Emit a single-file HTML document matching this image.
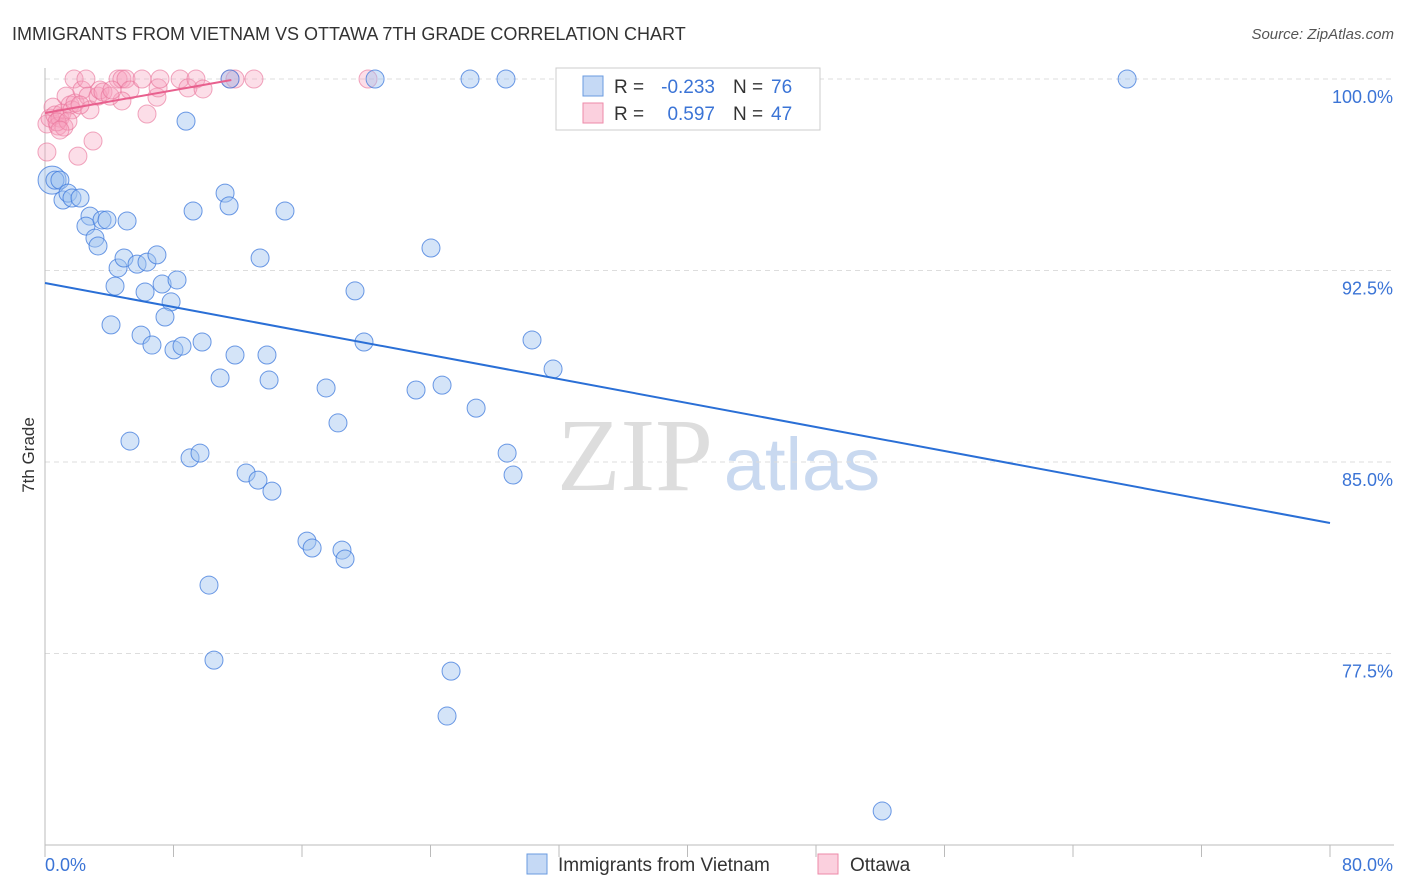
<!DOCTYPE html>
<html><head><meta charset="utf-8"><style>
body{margin:0;background:#fff;font-family:"Liberation Sans",sans-serif;}
svg{display:block}
</style></head><body>
<svg id="chart" width="1406" height="892">
<text x="12" y="40" font-size="18" fill="#333">IMMIGRANTS FROM VIETNAM VS OTTAWA 7TH GRADE CORRELATION CHART</text>
<text x="1394" y="39" font-size="15" fill="#555" text-anchor="end" font-style="italic">Source: ZipAtlas.com</text>
<text x="635" y="490" font-size="104" fill="#ddd" font-family="Liberation Serif,serif" text-anchor="middle">ZIP</text>
<text x="802" y="490" font-size="74" fill="#c9d9f0" text-anchor="middle">atlas</text>
<g id="grid"></g><g id="axes"></g><g id="pts"></g><g id="trends"></g>
<text transform="translate(34,455) rotate(-90)" font-size="17" fill="#333" text-anchor="middle">7th Grade</text>
<g>
<rect x="556" y="68" width="264" height="62" fill="#fff" stroke="#ccc"/>
<rect x="583" y="76" width="20" height="20" fill="#c5d9f5" stroke="#6a9be0"/>
<rect x="583" y="103" width="20" height="20" fill="#fbd0de" stroke="#ee8aa8"/>
<text x="614" y="93" font-size="19" fill="#333">R =</text>
<text x="715" y="93" font-size="19" fill="#3b74d6" text-anchor="end">-0.233</text>
<text x="733" y="93" font-size="19" fill="#333">N =</text>
<text x="771" y="93" font-size="19" fill="#3b74d6">76</text>
<text x="614" y="120" font-size="19" fill="#333">R =</text>
<text x="715" y="120" font-size="19" fill="#3b74d6" text-anchor="end">0.597</text>
<text x="733" y="120" font-size="19" fill="#333">N =</text>
<text x="771" y="120" font-size="19" fill="#3b74d6">47</text>
</g>
<g>
<rect x="527" y="854" width="20" height="20" fill="#c5d9f5" stroke="#6a9be0"/>
<text x="558" y="871" font-size="19" fill="#333">Immigrants from Vietnam</text>
<rect x="818" y="854" width="20" height="20" fill="#fbd0de" stroke="#ee8aa8"/>
<text x="850" y="871" font-size="19" fill="#333">Ottawa</text>
</g>
</svg>
<script>
const blueX=[0.44,0.62,0.93,1.12,1.43,1.68,2.18,2.80,2.55,3.55,3.86,5.11,3.11,3.30,4.55,4.92,5.73,6.35,6.97,4.36,6.23,7.29,8.22,7.85,4.11,7.47,5.98,6.66,8.03,8.53,9.78,11.83,13.82,10.90,13.95,17.50,23.10,24.72,26.84,18.24,19.86,19.30,24.03,30.32,31.63,5.29,9.03,9.65,12.52,13.26,14.13,16.31,16.63,18.49,18.68,10.21,10.52,25.28,25.03,52.12,28.77,29.14,8.78,11.21,11.46,9.22,14.94,13.39,20.55,26.46,28.70,43.28,67.37,11.52];
const blueY=[96.04,96.04,96.04,95.26,95.53,95.34,95.34,94.63,94.24,94.48,94.48,94.44,93.77,93.46,92.60,92.99,92.75,92.83,93.11,91.89,91.66,91.97,92.13,91.27,90.37,90.68,89.97,89.58,89.39,89.54,89.70,89.19,89.19,88.29,88.21,87.90,87.82,88.01,87.11,86.53,89.70,91.70,93.38,89.78,88.64,85.82,85.16,85.35,84.57,84.29,83.86,81.90,81.63,81.55,81.20,80.18,77.24,76.81,75.05,71.33,85.35,84.49,98.35,95.53,95.03,94.83,94.83,92.99,100,100,100,100,100,100];
const pinkX=[0.12,0.12,0.31,0.50,0.62,0.81,0.93,1.06,1.18,1.31,1.56,1.68,1.81,1.87,2.05,2.30,2.55,2.68,2.80,2.99,3.30,3.42,3.61,4.55,4.79,5.04,5.29,4.79,6.04,6.35,6.97,7.04,8.41,8.90,9.40,9.84,11.52,11.83,13.01,20.11,0.75,1.43,0.93,2.18,4.05,4.17,7.16];
const pinkY=[97.14,98.24,98.47,98.90,98.59,98.16,98.47,98.67,98.12,99.33,98.98,98.79,100,99.06,96.98,99.57,100,99.33,98.79,97.57,99.33,99.57,99.49,100,100,100,99.57,99.14,100,98.63,99.29,99.65,100,99.65,100,99.61,100,100,100,100,98.32,98.35,98.00,98.98,99.33,99.57,100];
const blueTrendX=[0,80], blueTrendY=[92.01,82.61];
const pinkTrendX=[0,11.6], pinkTrendY=[98.67,99.96];
const yTicks=[100,92.5,85,77.5];
const yTickLabels=["100.0%","92.5%","85.0%","77.5%"];
const xTickLabels=["0.0%","80.0%"];

const X0=45,X1=1330,Y0=79,YB=845;
const sx=v=>X0+(v-0)*(X1-X0)/80;
const sy=v=>Y0+(100-v)*(YB-Y0)/30;
const NS="http://www.w3.org/2000/svg";
function mk(tag,attrs,parent){const e=document.createElementNS(NS,tag);for(const k in attrs)e.setAttribute(k,attrs[k]);parent.appendChild(e);return e;}
const grid=document.getElementById('grid'),axes=document.getElementById('axes'),pts=document.getElementById('pts'),tr=document.getElementById('trends');
yTicks.forEach((t,i)=>{
  const l=mk('line',{x1:X0,x2:1394,y1:sy(t),y2:sy(t),stroke:'#ddd','stroke-dasharray':'5,4'},grid);
  
  
  const tx=mk('text',{x:1393,y:sy(t)+24,'font-size':18,fill:'#3b74d6','text-anchor':'end'},grid);
  tx.textContent=yTickLabels[i];
  
  
});
const ya=mk('line',{x1:X0,x2:X0,y1:68,y2:YB,stroke:'#bbb'},axes);


const xa=mk('line',{x1:X0,x2:1394,y1:YB,y2:YB,stroke:'#bbb'},axes);


for(let v=0;v<=80;v+=8){
  const t=mk('line',{x1:sx(v),x2:sx(v),y1:YB,y2:YB+12,stroke:'#bbb'},axes);
  
  
}
[[0,'start',45],[80,'end',1393]].forEach((a,i)=>{
  const t=mk('text',{x:a[2],y:871,'font-size':18,fill:'#3b74d6','text-anchor':a[1]},axes);
  t.textContent=xTickLabels[i];
  
  
});
pinkX.forEach((x,i)=>{
  const c=mk('circle',{cx:sx(x),cy:sy(pinkY[i]),r:9,fill:'rgba(245,160,190,0.35)',stroke:'rgba(232,110,150,0.6)','stroke-width':1},pts);
  
  
});
blueX.forEach((x,i)=>{
  const c=mk('circle',{cx:sx(x),cy:sy(blueY[i]),r:i===0?14:9,fill:'rgba(160,195,240,0.45)',stroke:'rgba(60,120,220,0.75)','stroke-width':1},pts);
  
  
});
const bl=mk('line',{x1:sx(blueTrendX[0]),y1:sy(blueTrendY[0]),x2:sx(blueTrendX[1]),y2:sy(blueTrendY[1]),stroke:'#2a6fd6','stroke-width':2},tr);


const pl=mk('line',{x1:sx(pinkTrendX[0]),y1:sy(pinkTrendY[0]),x2:sx(pinkTrendX[1]),y2:sy(pinkTrendY[1]),stroke:'#e8608e','stroke-width':2},tr);


</script>
</body></html>
